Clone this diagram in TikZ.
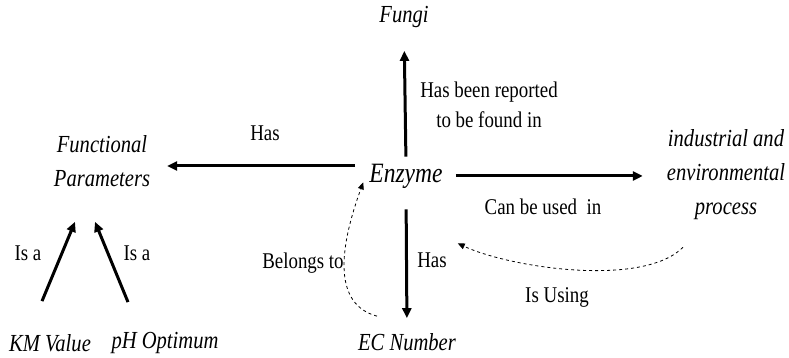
\documentclass[tikz,border=0pt]{standalone}
\usepackage{fontspec}
\setmainfont[FakeStretch=0.84]{Liberation Serif}
\usetikzlibrary{arrows.meta}
\usetikzlibrary{calc}

\begin{document}
\begin{tikzpicture}[x=1pt, y=1pt,
    concept/.style={inner sep=0pt, align=center, font=\fontsize{24.5}{34}\selectfont\itshape},
    relation/.style={inner sep=0pt, align=center, font=\fontsize{22.5}{30}\selectfont},
    link/.style={line width=3pt, -{Triangle[length=10pt,width=9pt]}},
    backlink/.style={dashed, line width=0.8pt, -{Triangle[length=7pt,width=6pt]}}]
\useasboundingbox (0,0) rectangle (789,358);
\node[concept] (fungi) at (404,341) {Fungi};
\node[concept, font=\fontsize{28}{32}\selectfont\itshape] (enzyme) at (406,182) {Enzyme};
\node[concept] (func) at (102,197) {Functional\\Parameters};
\node[concept] (process) at (726,183) {industrial and\\environmental\\process};
\node[concept] (ecnum) at (407,16) {EC Number};
\node[concept] (km) at (50,15) {KM Value};
\node[concept] (ph) at (165,15) {pH Optimum};
% relation labels
\node[relation] (hasfunc) at (265,225) {Has};
\node[relation] (reported) at (489,253) {Has been reported\\to be found in};
\node[relation] (usedin) at (543,151) {Can be used\ \ in};
\node[relation] (hasec) at (432,98) {Has};
\node[relation] (using) at (557,61) {Is Using};
\node[relation] (belongs) at (303,95) {Belongs to};
\node[relation] (isakm) at (28,105) {Is a};
\node[relation] (isaph) at (137,105) {Is a};
% arrows
\draw[link, shorten <=7pt, shorten >=23pt] (enzyme.north) -- (fungi.south);
\draw[link, shorten <=21pt, shorten >=15pt] (enzyme.south) -- (ecnum.north);
\draw[link, shorten <=13pt, shorten >=24pt] (enzyme.east) -- (enzyme.east -| process.west);
\draw[link, shorten <=14pt, shorten >=17pt] ([yshift=10pt]enzyme.west) -- ([yshift=10pt]enzyme.west -| func.east);
\draw[link] ([xshift=-8pt,yshift=33pt]km.north) -- ([xshift=-27pt,yshift=-35pt]func.south);
\draw[link] ([xshift=-37pt,yshift=30pt]ph.north) -- ([xshift=-7pt,yshift=-35pt]func.south);
\draw[backlink] ([xshift=-30pt,yshift=17pt]ecnum.north) to[out=165, in=-110] ([xshift=-6pt,yshift=6pt]enzyme.south west);
\draw[backlink] ([xshift=-43pt,yshift=-27pt]process.south) to[out=-135, in=-25, looseness=0.65] ([xshift=15pt,yshift=-55pt]enzyme.south east);
\end{tikzpicture}
\end{document}
